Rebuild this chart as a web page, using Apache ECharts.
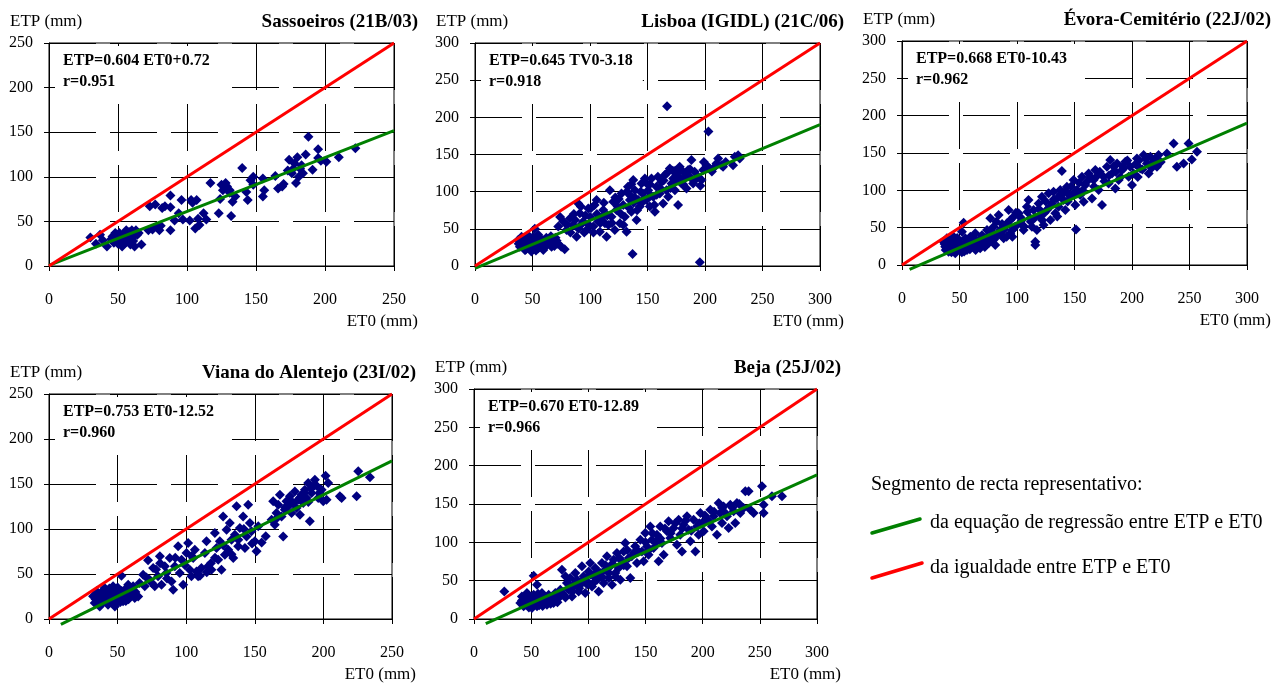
<!DOCTYPE html>
<html>
<head>
<meta charset="utf-8">
<script src="https://cdn.jsdelivr.net/npm/echarts@6/dist/echarts.min.js"></script>
<style>
  html, body { margin: 0; padding: 0; background: #fff; }
  #main { width: 1277px; height: 687px; }
</style>
</head>
<body>
<div id="main"></div>
<script>
// station names, axis ranges, regression coefficients
const stations = ['Sassoeiros (21B/03)', 'Lisboa (IGIDL) (21C/06)', 'Évora-Cemitério (22J/02)', 'Viana do Alentejo (23I/02)', 'Beja (25J/02)'];
const equations = ['ETP=0.604 ET0+0.72', 'ETP=0.645 TV0-3.18', 'ETP=0.668 ET0-10.43', 'ETP=0.753 ET0-12.52', 'ETP=0.670 ET0-12.89'];
const correlations = ['r=0.951', 'r=0.918', 'r=0.962', 'r=0.960', 'r=0.966'];
const slopes = [0.604, 0.645, 0.668, 0.753, 0.670];
const intercepts = [0.72, -3.18, -10.43, -12.52, -12.89];
const axisMax = [250, 300, 300, 250, 300];

// ET0, ETP monthly pairs (mm)
const sassoeiros = [
  [30,32],[34,25],[37,35],[39,29],[42,22],[45,30],[47,26],[48,37],[49,32],[50,25],[51,37],[52,28],[53,29],[53,22],
  [54,35],[55,33],[56,40],[56,27],[57,37],[57,31],[58,38],[59,24],[60,31],[60,40],[61,33],[61,28],[62,22],[63,40],
  [65,37],[67,24],[72,40],[73,67],[75,41],[77,69],[78,44],[80,40],[81,45],[82,65],[84,67],[88,79],[88,40],[88,66],
  [91,51],[94,59],[96,74],[97,52],[102,51],[103,74],[104,71],[106,42],[107,74],[108,53],[109,46],[112,59],[114,52],
  [117,93],[123,59],[124,75],[125,91],[126,85],[128,93],[129,89],[131,85],[131,82],[132,56],[133,72],[135,78],
  [140,110],[143,83],[144,74],[146,96],[148,91],[148,100],[155,78],[156,85],[155,98],[164,101],[166,87],[169,89],
  [170,92],[173,107],[174,119],[176,104],[177,109],[178,115],[179,93],[180,122],[181,100],[182,109],[183,113],
  [184,104],[186,125],[188,145],[191,108],[195,121],[195,131],[197,118],[201,117],[210,122],[222,132],
  [46,33],[50,28],[52,34],[55,26],[58,34],[64,35]
];
const lisboa = [
  [167,215],[203,181],[137,16],[195.5,5],[52,50],
  [37.6,35],[39,26],[40.5,39.5],[42,30],[43.4,21.5],[45,37],[46.3,28],[48,33],[49,19.5],[50.7,39.5],[52,26],
  [53.6,33],[55,24],[56.5,37],[58,30.5],[59.4,21.5],[60.8,35],[62.3,28],[64.6,33],[66.6,26],[68,37],[74,66],
  [75,26],[78,22.5],[38,30],[41,34],[44,25],[47,40],[51,30],[54,36],[57,27],[61,31],[65,29],[43,32],[48,27],
  [55,42],[59,35],[70,38],[72,30],
  [40,28],[42,36],[44,22],[46,33],[49,24],[50,35],[52,30],[53,21],[55,38],[56,28],[58,34],[60,25],[62,38],
  [63,31],[67,31],[69,27],[71,34],[66,40],
  [72.4,53],[76.7,60],[79.6,48.4],[82.5,64],[85.4,55],[88.3,39.5],[89.8,84],[91.2,71],[94,60],[97,48.4],
  [98.5,77.5],[100,66.3],[102.8,53],[105.7,88.7],[107,60],[108.6,46.2],[111.5,75.3],[113,57.4],[114.4,39.5],
  [117.3,102],[118.7,66.3],[120.2,86.5],[121.6,48.4],[123,75.3],[126,57.4],[127.4,97.7],[128.9,82],[130.3,66.3],
  [131.8,46.2],[133,106.6],[134.7,88.7],[136,73],[137.6,115.6],[139,102],[140.5,61.8],[142,88.7],[143.3,80],
  [144.8,111],[146,97.7],[147.7,117.8],[149,88.7],[150.6,102],[152,80],[153.5,117.8],[155,93],[156.4,73],
  [157.8,106.6],[160.7,97.7],[162,113],[163.6,84.2],[165,122.3],[166.5,102],[168,93],[169.4,131.3],[170.9,111],
  [172.3,117.8],[173.8,102],[175.2,124.5],[176.6,82],[178,133.5],[179.5,111],[181,126.8],[182.4,117.8],
  [183.9,104.4],[185.3,129],[186.8,120],[188.2,142.5],[189.7,111],[191,126.8],[192.6,117.8],[197,115.6],
  [198.4,129],[201.3,135.7],[204,131.3],[208.5,133.5],[211.4,144.7],[214.3,135.7],[215.7,133.5],[224.4,135.7],
  [225.9,147],[228.8,149],[230.2,144.7],[86,70],[95,45],[104,82],[110,65],[125,90],[135,95],[145,85],[158,96],
  [174,128],[180,116],[93,57],[116,55],[138,85],[152,110],
  [80,55],[83,45],[87,62],[90,50],[92,80],[96,68],[99,55],[101,78],[103,45],[106,70],[109,58],[112,85],[115,68],
  [119,58],[122,92],[124,80],[127,70],[129,55],[132,100],[134,78],[136,110],[139,92],[141,75],[144,100],[147,90],
  [150,110],[153,95],[156,82],[159,120],[161,105],[164,115],[167,125],[170,105],[172,128],[175,115],[177,120],
  [181,110],[184,125],[187,130],[190,115],[194,120],[196,108],[199,140],[206,127],[210,138],[218,140]
];
const evora = [
  [53.6,56.7],[139,125.8],[151.3,47.7],[115.9,26.8],[115.9,31.3],[236.2,162.8],[249.2,162.8],[256.5,151.6],
  [252,141.4],[239,131.6],[244.9,136],[230.4,149.4],
  [36.2,31.3],[37.6,24.6],[39,35.7],[40.5,17.9],[42,29],[43.4,22.3],[44.9,38],[46.3,15.6],[47.8,26.8],[49.2,33.5],
  [50.7,20],[52.1,44.6],[53.6,26.8],[55,35.7],[56.5,20],[57.9,29],[59.4,38],[62.3,24.6],[63.7,42.4],[65.2,31.3],
  [68,22.3],[69.5,40],[71,29],[73.9,46.9],[75.3,33.5],[76.8,62.5],[78.2,38],[79.7,51.3],[81.1,26.8],[84,67],
  [85.5,46.9],[88.4,35.7],[91.3,55.8],[92.7,73.6],[94.2,42.4],[97,64.7],[98.5,51.3],[101.4,69.2],[102.9,55.8],
  [105.7,46.9],[108.6,78],[110,87],[111.5,62.5],[113,51.3],[114.4,73.6],[117.3,46.9],[118.8,82.5],[120.2,64.7],
  [121.7,91.4],[123.1,53.6],[126,73.6],[127.5,96],[129,60.2],[130.4,82.5],[131.8,98.1],[133.3,69.2],[134.7,89.2],
  [136.2,78],[137.6,100.4],[140.5,87],[142,73.6],[143.4,104.8],[146.3,91.4],[149.2,113.7],[150.7,80.3],
  [152.1,100.4],[155,93.7],[156.5,118.2],[158,84.8],[159.4,107],[162.3,122.6],[165.2,89.2],[166.6,113.7],
  [168.1,127.1],[171,100.4],[173.9,80.3],[175.3,118.2],[178.2,131.6],[179.7,109.3],[181.1,140.5],[182.6,122.6],
  [185.5,102.6],[187,136],[188.4,113.7],[191.3,127.1],[194.2,138.2],[197.1,118.2],[198.5,131.6],[200,107],
  [201.4,122.6],[204.3,142.7],[207.2,129.3],[210.1,147.2],[213,136],[214.5,122.6],[216,145],[218.8,138.2],
  [221.7,131.6],[223.1,147.2],[38,20],[41,26],[45,30],[48,22],[51,28],[54,18],[58,24],[60,31],[66,26],[70,35],
  [74,28],[83,40],[87,55],[96,38],[104,60],[124,70],[145,95],[170,120],[192,132],[205,118],
  [37,28],[39,22],[41,33],[43,17],[46,24],[48,36],[50,30],[52,17],[55,25],[57,33],[59,21],[61,28],[63,36],
  [64,20],[67,33],[69,27],[72,24],[74,38],[76,30],[78,45],[80,34],[82,58],[86,41],[89,48],[91,38],[94,60],
  [96,47],[99,70],[103,64],[106,52],[109,71],[112,58],[116,64],[119,75],[122,60],[125,85],[128,77],[132,88],
  [135,65],[138,95],[141,97],[144,85],[147,105],[150,97],[154,110],[157,100],[161,112],[164,118],[167,105],
  [172,125],[176,112],[180,120],[184,132],[186,125],[190,118],[193,130],[196,140],[203,135],[206,140],[209,128],
  [212,142],[217,130],[220,142],[225,138]
];
const viana = [
  [32.1,25.2],[33.3,17.8],[34.6,30.7],[35.8,21.5],[37,14],[38.2,28.9],[39.4,19.6],[40.6,34.4],[41.8,23.3],
  [43,15.9],[44.3,28.9],[45.5,21.5],[46.7,36.3],[47.9,25.2],[49.1,17.8],[50.4,30.7],[51.6,23.3],[52.8,48.1],
  [54,19.6],[55.2,32.6],[56.4,25.2],[57.7,38.1],[58.9,28.9],[61.3,36.3],[62.5,23.3],[36,24],[39,31],[42,27],
  [44,20],[47,30],[50,22],[53,27],[56,20],[59,33],[45,33],[48,14],
  [34,22],[36,28],[38,17],[40,26],[41,31],[43,20],[44,34],[46,26],[47,19],[49,28],[50,35],[52,19],[53,31],
  [55,23],[57,30],[58,22],[60,28],[63,30],[65,25],[66,40],
  [68.6,49.2],[69.8,36.3],[72.2,65.2],[73.4,43.7],[75.9,56.6],[77.1,36.3],[79.5,47.4],[80.8,69.6],[82,38.1],
  [84.4,58.5],[85.6,51.1],[88,67.8],[89.3,41.8],[90.5,32.6],[91.7,58.5],[94.1,80.7],[95.3,51.1],[96.6,65.9],
  [97.8,38.1],[100.2,73.3],[101.4,84.4],[102.6,54.8],[103.8,47.4],[105.1,67.8],[106.3,77],[107.5,52.9],
  [108.7,47.4],[111.1,56.6],[113.6,73.3],[114.8,86.3],[116,58.5],[118.4,54.8],[120.9,95.5],[122.1,78.9],
  [123.3,65.9],[124.5,86.3],[125.7,54.8],[126.9,114],[128.2,71.5],[129.4,99.2],[130.6,77],[131.8,106.6],
  [133,88.1],[134.3,67.8],[135.5,93.7],[136.7,125.2],[137.9,80.7],[139.1,101.1],[141.5,114],[142.8,78.9],
  [144,91.8],[145.2,127],[146.4,106.6],[147.6,97.4],[150,86.3],[151.3,75.2],[152.5,103],[162.2,110.3],
  [163.4,130.7],[164.6,104.8],[165.8,117.8],[167.1,127],[168.3,138.1],[169.5,114],[170.7,91.8],[171.9,121.5],
  [173.1,130.7],[174.4,125.2],[175.6,136.3],[176.8,117.8],[178,128.9],[179.2,141.8],[180.4,123.3],[181.6,132.6],
  [182.9,115.9],[184.1,138.1],[185.3,128.9],[186.5,143.7],[187.7,134.4],[188.9,151.1],[190.1,108.5],[191.4,140],
  [192.6,147.4],[193.8,154.8],[196.2,134.4],[198.7,143.7],[199.9,130.7],[201.6,159.2],[202.3,132.6],[203.5,151.1],
  [213.3,134.4],[212,136.3],[224.2,136.3],[225.4,164.1],[233.9,157.4],
  [71,46],[75,40],[78,55],[81,62],[86,45],[92,68],[99,60],[104,70],[110,48],[115,52],[118,62],[121,68],[127,82],
  [133,72],[138,88],[142,100],[148,84],[155,85],[158,92],[166,112],[172,124],[177,130],[183,135],[186,140],
  [189,130],[191,145],[195,148],[197,140]
];
const beja = [
  [26.5,36],[52.2,56.5],[55.1,44.7],
  [40.5,20.8],[41.9,29.5],[43.4,16.5],[44.9,25.2],[46.3,33.9],[47.8,18.7],[49.2,27.4],[50.7,14.3],[52.2,31.7],
  [53.6,23],[55.1,16.5],[56.5,29.5],[58,20.8],[59.4,33.9],[60.9,25.2],[63.8,18.7],[65.3,31.7],[66.7,25.2],
  [69.6,20.8],[71.1,33.9],[74,27.4],[75.5,38.2],[42,24],[45,19],[48,30],[51,22],[54,27],[57,18],[62,28],[68,29],
  [43,23],[45,28],[47,22],[48,15],[50,24],[52,19],[53,28],[55,21],[56,33],[58,25],[60,17],[61,30],[63,23],
  [65,27],[67,20],[70,25],[72,30],[73,22],[77,34],[80,28],
  [76.9,64.3],[78.4,31.7],[79.9,55.6],[81.3,46.9],[82.8,38.2],[84.2,53.4],[85.7,29.5],[87.1,42.5],[88.6,60],
  [90.1,51.3],[91.5,36],[93,44.7],[94.4,68.7],[95.9,55.6],[97.3,33.9],[98.8,49.1],[100.3,62.1],[101.7,73],
  [103.2,42.5],[104.6,55.6],[106.1,66.5],[107.6,51.3],[109,36],[110.5,60],[111.9,73],[113.4,46.9],[114.8,64.3],
  [116.3,81.7],[117.8,53.4],[119.2,68.7],[120.7,44.7],[122.1,77.4],[123.6,60],[125,86],[126.5,66.5],[128,51.3],
  [129.4,75.2],[130.9,88.2],[132.3,99.1],[133.8,68.7],[135.3,79.6],[136.7,53.4],[139.6,86],[142.5,73],
  [145.5,103.4],[146.9,88.2],[148.4,75.2],[149.8,112.1],[151.3,94.7],[152.7,83.9],[154.2,120.8],[155.7,103.4],
  [157.1,92.5],[160,110],[161.5,75.2],[162.9,120.8],[164.4,99.1],[165.9,83.9],[168.8,114.3],[170.2,127.4],
  [171.7,105.6],[174.6,118.6],[177.5,96.9],[179,129.5],[180.4,110],[181.9,88.2],[183.3,123],[186.3,133.9],
  [187.7,116.5],[189.2,101.3],[192.1,129.5],[193.6,88.2],[195,120.8],[196.5,110],[198,138.2],[199.4,125.2],
  [200.9,114.3],[203.8,129.5],[206.7,142.6],[208.1,120.8],[209.6,133.9],[212.5,110],[214,151.3],[215.4,138.2],
  [216.9,125.2],[218.3,146.9],[221.3,133.9],[222.7,118.6],[224.2,149.1],[227.1,140.4],[228.5,125.2],[230,151.3],
  [232.9,138.2],[235.8,144.7],[237.3,166.5],[240.2,166.5],[241.7,142.6],[244.6,138.2],[251.9,173],[253.3,149.1],
  [253.3,138.2],[260.6,160],[269.4,160],
  [83,45],[86,36],[89,48],[92,40],[96,52],[99,45],[102,58],[105,48],[108,62],[112,55],[115,70],[118,60],[121,72],
  [124,55],[127,80],[131,70],[134,90],[138,82],[141,95],[144,88],[150,100],[153,90],[156,112],[159,100],
  [163,105],[167,118],[172,112],[176,125],[182,118],[185,128],[190,115],[197,125],[202,135],[205,128],[210,140],
  [217,145],[220,138],[226,145],[232,150]
];
const pointSets = [sassoeiros, lisboa, evora, viana, beja];

// plot-area boxes in pixels: left, top, width, height
const boxes = [
  [49, 43, 345, 223],
  [475, 43, 345, 223],
  [902, 41, 345, 224],
  [49, 394, 343, 225],
  [474, 389, 343, 230]
];

const FONT = '"Liberation Serif", "Times New Roman", serif';
const dash = [47, 14];

const grids = [], xAxes = [], yAxes = [], series = [], texts = [];

function label(txt, x, y, font, align) {
  return {
    type: 'text', x: x, y: y, z: 100,
    style: { text: txt, font: font, fill: '#000', textAlign: align, textVerticalAlign: 'middle' }
  };
}

boxes.forEach(function (b, i) {
  const max = axisMax[i];
  grids.push({ left: b[0], top: b[1], width: b[2], height: b[3], show: true, borderColor: '#000', borderWidth: 1, backgroundColor: '#fff' });
  const axisCommon = {
    gridIndex: i, type: 'value', min: 0, max: max, interval: 50,
    axisLine: { show: true, onZero: false, lineStyle: { color: '#000', width: 1 } },
    axisTick: { show: true, inside: false, length: 5, lineStyle: { color: '#000' } },
    splitLine: { show: true, lineStyle: { color: '#000', width: 1, type: dash } },
    axisLabel: { color: '#000', fontFamily: FONT, fontSize: 16 }
  };
  xAxes.push(Object.assign({}, axisCommon, { axisLabel: Object.assign({}, axisCommon.axisLabel, { margin: 26 }) }));
  yAxes.push(Object.assign({}, axisCommon, { axisLabel: Object.assign({}, axisCommon.axisLabel, { margin: 16 }) }));

  series.push({
    type: 'scatter', xAxisIndex: i, yAxisIndex: i, data: pointSets[i],
    symbol: 'diamond', symbolSize: 10, itemStyle: { color: '#000080', opacity: 1 }, z: 2
  });

  // regression segment, from the equation, starting just below the x axis
  const a = slopes[i], c = intercepts[i];
  const xStart = Math.max(0, (-6 - c) / a);
  series.push({
    type: 'line', xAxisIndex: i, yAxisIndex: i, clip: false, symbol: 'none', silent: true,
    data: [[xStart, a * xStart + c], [max, a * max + c]],
    lineStyle: { color: '#008000', width: 3 }, z: 3
  });
  // equality line ETP = ET0
  series.push({
    type: 'line', xAxisIndex: i, yAxisIndex: i, clip: false, symbol: 'none', silent: true,
    data: [[0, 0], [max, max]],
    lineStyle: { color: '#ff0000', width: 3 }, z: 4
  });

  const right = b[0] + b[2] + 24;
  texts.push(label('ETP (mm)', b[0] - 39, b[1] - 21, '17px ' + FONT, 'left'));
  texts.push(label(stations[i], right, b[1] - 21, 'bold 19px ' + FONT, 'right'));
  // equation box with white fill hiding the grid behind it
  texts.push({
    type: 'text', left: b[0] + 6, top: b[1] + 3, z: 100,
    style: {
      text: equations[i] + '\n' + correlations[i], font: 'bold 16px ' + FONT, fill: '#000',
      lineHeight: 21, backgroundColor: '#fff', padding: [4, 10, 10, 8]
    }
  });
  texts.push(label('ET0 (mm)', right, b[1] + b[3] + 56, '17px ' + FONT, 'right'));
});

// legend block
texts.push(label('Segmento de recta representativo:', 871, 485, '20px ' + FONT, 'left'));
texts.push({ type: 'line', shape: { x1: 872, y1: 533, x2: 920, y2: 519 }, style: { stroke: '#008000', lineWidth: 3.5, lineCap: 'round' } });
texts.push(label('da equação de regressão entre ETP e ET0', 930, 523, '20px ' + FONT, 'left'));
texts.push({ type: 'line', shape: { x1: 872, y1: 578, x2: 922, y2: 563 }, style: { stroke: '#ff0000', lineWidth: 3.5, lineCap: 'round' } });
texts.push(label('da igualdade entre ETP e ET0', 930, 568, '20px ' + FONT, 'left'));

const chart = echarts.init(document.getElementById('main'), null, { renderer: 'canvas' });
chart.setOption({
  animation: false,
  backgroundColor: '#fff',
  grid: grids,
  xAxis: xAxes,
  yAxis: yAxes,
  series: series,
  graphic: texts
});
</script>
</body>
</html>
